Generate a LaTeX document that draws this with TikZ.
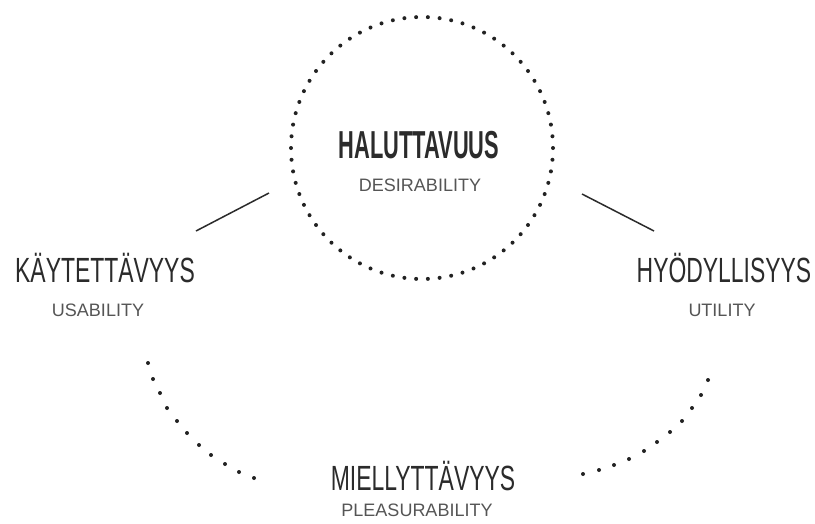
\documentclass[tikz,border=0pt]{standalone}
\usepackage{fontspec}
\setmainfont{Liberation Sans}
\newfontfamily\headfont[FakeStretch=0.655]{Liberation Sans}
\newfontfamily\headboldfont[FakeStretch=0.56]{Liberation Sans Bold}
\definecolor{headgray}{HTML}{2B2B2B}
\definecolor{subgray}{HTML}{555555}
\definecolor{dotgray}{HTML}{222222}
\begin{document}
\begin{tikzpicture}[x=1pt,y=-1pt,
  heading/.style={anchor=base, inner sep=0pt, text=headgray,
    font=\headfont\fontsize{35}{40}\selectfont},
  mainheading/.style={anchor=base, inner sep=0pt, text=headgray,
    font=\headboldfont\fontsize{39}{44}\selectfont},
  sublabel/.style={anchor=base, inner sep=0pt, text=subgray,
    font=\fontsize{18}{20}\selectfont},
  dotring/.style={circle, draw=dotgray, line width=4pt, line cap=round,
    dash pattern=on 0pt off 11.76pt, inner sep=0pt},
  link/.style={draw=headgray, line width=1.5pt},
  arcdot/.style={fill=dotgray}]
  \useasboundingbox[fill=white] (0,0) rectangle (815,523);

  % central dotted ring
  \node[dotring, minimum size=262pt] (ring) at (422,148) {};

  % labels
  \node[mainheading] (des) at (419,158) {HALUTTAVUUS};
  \node[sublabel] (dessub) at (420,191) {DESIRABILITY};
  \node[heading] (usa) at (105,282) {KÄYTETTÄVYYS};
  \node[sublabel] (usasub) at (98,316) {USABILITY};
  \node[heading] (uti) at (724,282) {HYÖDYLLISYYS};
  \node[sublabel] (utisub) at (722,316) {UTILITY};
  \node[heading] (ple) at (423,490) {MIELLYTTÄVYYS};
  \node[sublabel] (plesub) at (417,516) {PLEASURABILITY};

  % short connectors between the ring and the side labels
  \coordinate (lA) at (196,231);
  \coordinate (lB) at (269,193);
  \coordinate (rA) at (582,194);
  \coordinate (rB) at (654,231);
  \draw[link] (lA) -- (lB);
  \draw[link] (rA) -- (rB);

  % dotted arcs towards the bottom label
  \foreach \p in {(148,363),(153,379),(160,393),(167,408),(177,421),(187,433),
                  (199,445),(211,455),(225,464),(239,472),(254,478)}
    \fill[arcdot] \p circle[radius=2pt];
  \foreach \p in {(583,474),(599,470),(614,465),(629,459),(644,451),(657,442),
                  (670,432),(682,421),(692,408),(701,395),(708,380)}
    \fill[arcdot] \p circle[radius=2pt];
\end{tikzpicture}
\end{document}
